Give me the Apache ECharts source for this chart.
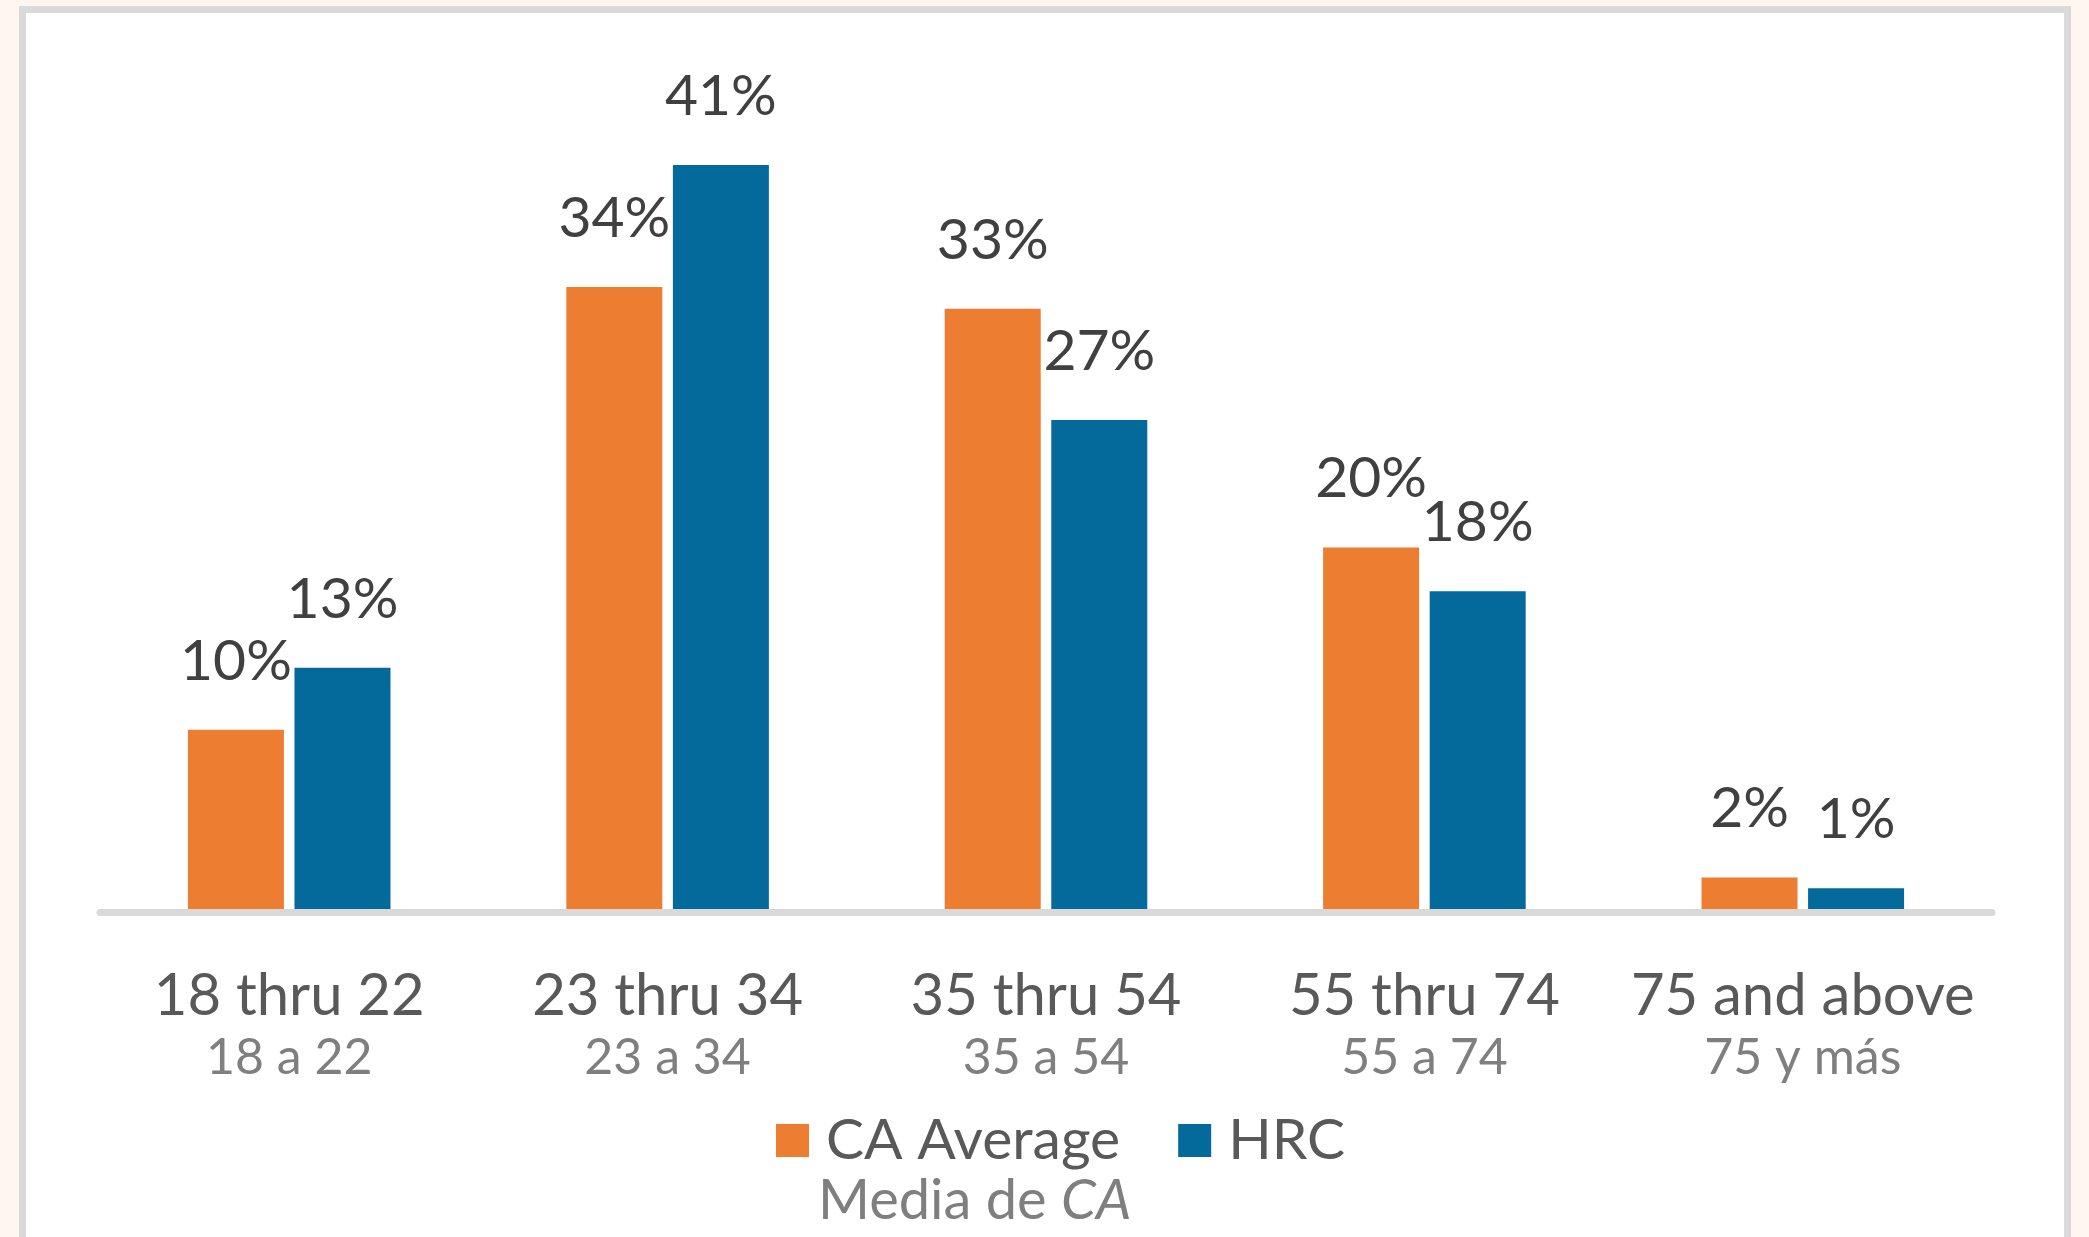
<!DOCTYPE html>
<html lang="en">
<head>
    <meta charset="UTF-8">
    <title>Age groups</title>
    <script src="https://cdn.jsdelivr.net/npm/echarts@6/dist/echarts.min.js"></script>
    <style type="text/css">
        html, body { margin:0; padding:0; background:#fff6f0; }
        #main{ width:2089px; height:1237px; }
    </style>
</head>
<body>
<div id="main"></div>
<script type="application/javascript">
    // data
    var categories = ['18 thru 22', '23 thru 34', '35 thru 54', '55 thru 74', '75 and above'];
    var categoriesEs = ['18 a 22', '23 a 34', '35 a 54', '55 a 74', '75 y más'];
    var caAverage = [10, 34.3, 33.1, 20, 1.9];
    var hrc = [13.4, 41, 27, 17.6, 1.3];

    var FONT = 'Lato';
    var myChart = echarts.init(document.getElementById('main'));

    var valueLabel = {
        show: true,
        position: 'top',
        distance: 40,
        fontFamily: FONT,
        fontSize: 57,
        color: '#404040',
        formatter: function (p) { return Math.round(p.value) + '%'; }
    };

    myChart.setOption({
        backgroundColor: 'transparent',
        animation: false,
        graphic: [{
            type: 'rect',
            z: -10,
            shape: { x: 22.5, y: 9.5, width: 2045, height: 1400 },
            style: { fill: '#ffffff', stroke: '#dadada', lineWidth: 7 }
        }],
        title: {
            text: 'Media de {i|CA}',
            left: 813,
            top: 1168,
            textStyle: {
                fontFamily: FONT,
                fontSize: 56,
                fontWeight: 'normal',
                color: '#7f7f7f',
                rich: {
                    i: { fontFamily: FONT, fontSize: 56, fontStyle: 'italic', color: '#7f7f7f' }
                }
            }
        },
        legend: {
            data: ['CA Average', 'HRC'],
            left: 771,
            top: 1107,
            itemWidth: 33,
            itemHeight: 33,
            itemGap: 58,
            icon: 'rect',
            textStyle: {
                fontFamily: FONT,
                fontSize: 57,
                color: '#595959',
                padding: [0, 0, 0, 12]
            }
        },
        grid: { left: 100, right: 97, top: 92, bottom: 325 },
        xAxis: {
            type: 'category',
            data: categories,
            z: 5,
            axisLine: { lineStyle: { color: '#d9d9d9', width: 7 } },
            axisTick: { show: false },
            axisLabel: {
                margin: 52,
                interval: 0,
                formatter: function (v, i) {
                    return '{a|' + v + '}\n{b|' + categoriesEs[i] + '}';
                },
                rich: {
                    a: { fontFamily: FONT, fontSize: 58, color: '#595959', lineHeight: 64 },
                    b: { fontFamily: FONT, fontSize: 50, color: '#7f7f7f', lineHeight: 60 }
                }
            }
        },
        yAxis: {
            type: 'value',
            min: 0,
            max: 45,
            show: false,
            splitLine: { show: false }
        },
        series: [{
            name: 'CA Average',
            type: 'bar',
            data: caAverage,
            barWidth: 96,
            barGap: '11%',
            itemStyle: { color: '#ed7d31' },
            label: valueLabel
        }, {
            name: 'HRC',
            type: 'bar',
            data: hrc,
            barWidth: 96,
            itemStyle: { color: '#04699b' },
            label: valueLabel
        }]
    });
</script>
</body>
</html>
